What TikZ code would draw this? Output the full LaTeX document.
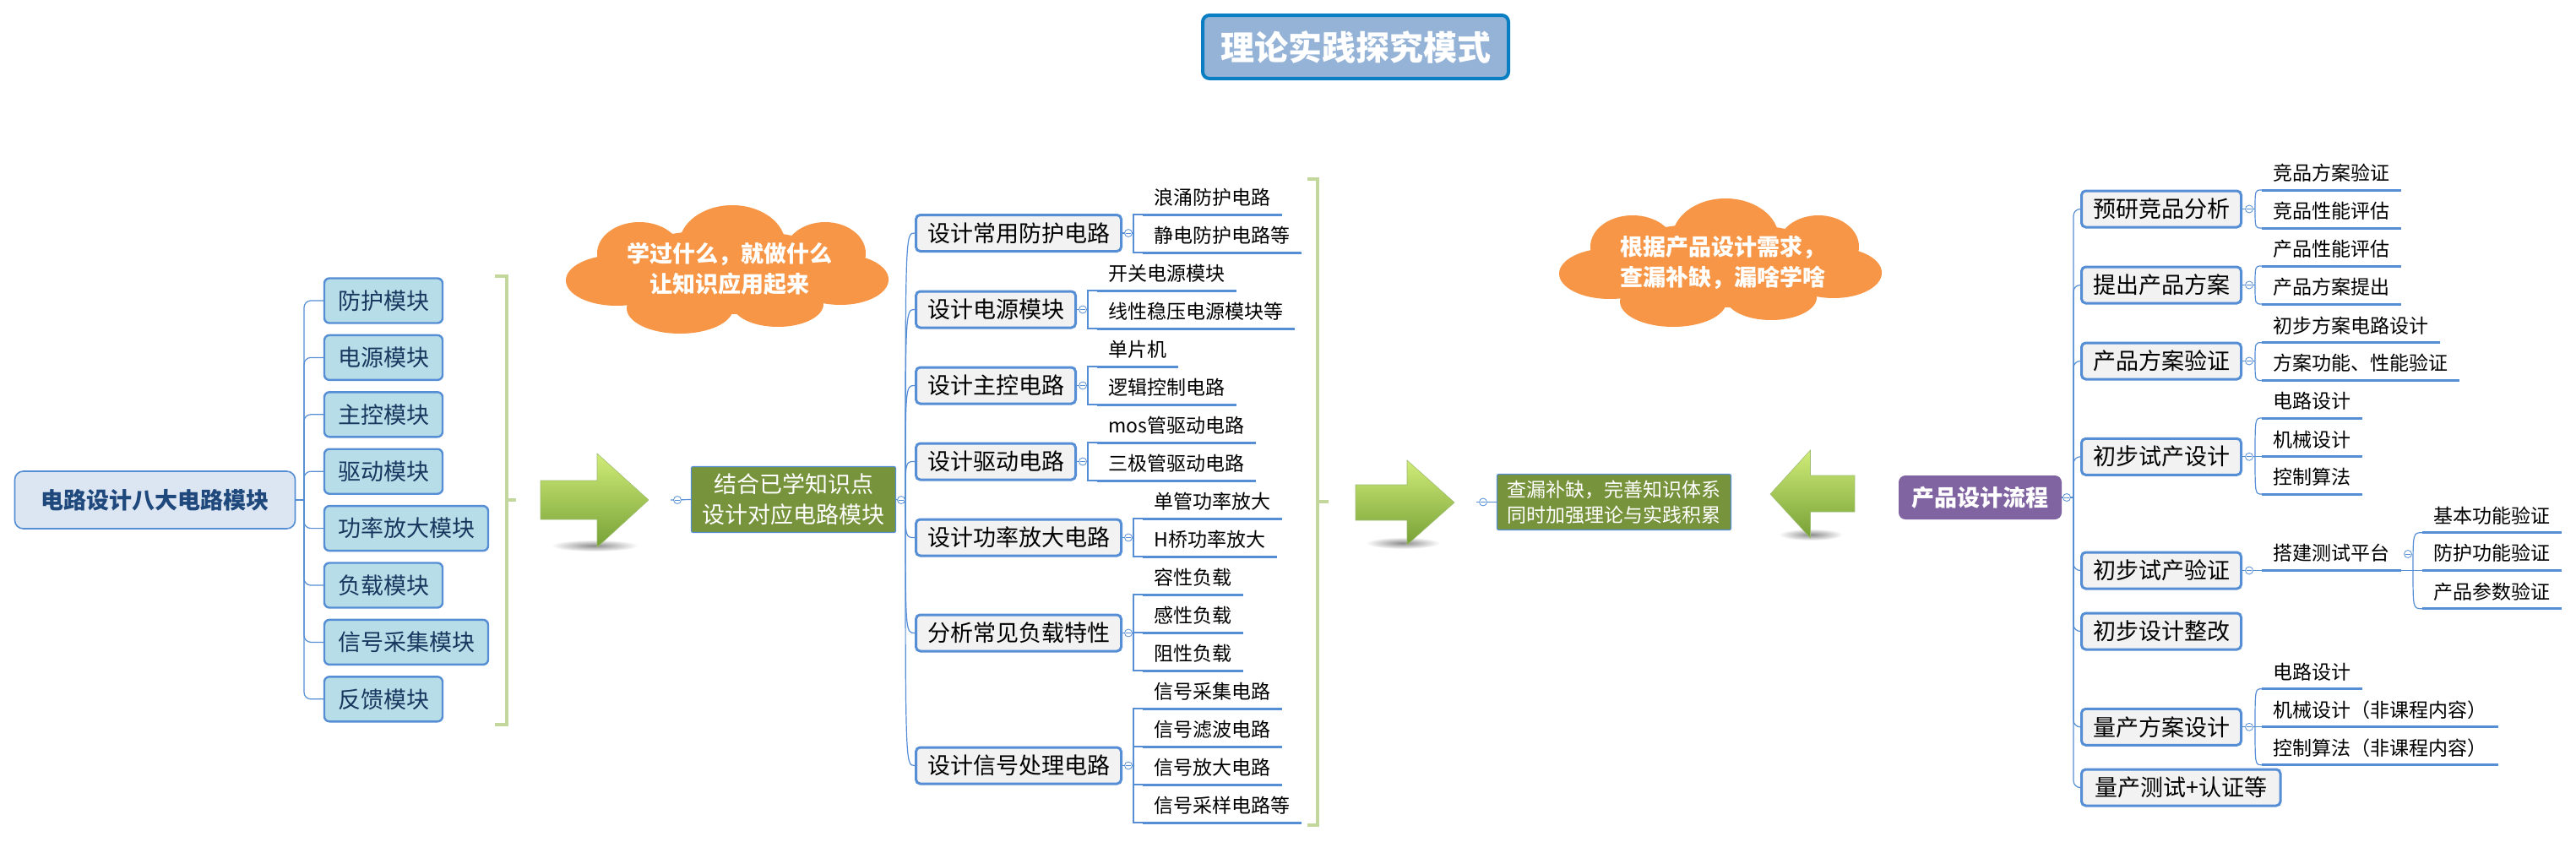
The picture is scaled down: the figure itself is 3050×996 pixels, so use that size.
\documentclass[tikz,border=0pt]{standalone}
\usepackage{fontspec}
\setmainfont{Noto Sans CJK SC}
\usetikzlibrary{calc}
\pgfdeclarelayer{bg}
\pgfsetlayers{bg,main}
\definecolor{linkblue}{HTML}{558ED5}
\definecolor{leftfill}{HTML}{B7DEE8}
\definecolor{mainfill}{HTML}{DCE6F2}
\definecolor{maintext}{HTML}{1F497D}
\definecolor{childtext}{HTML}{17375E}
\definecolor{boxfill}{HTML}{F2F2F2}
\definecolor{olivefill}{HTML}{77933C}
\definecolor{purplefill}{HTML}{8064A2}
\definecolor{cloudfill}{HTML}{F79646}
\definecolor{titlefill}{HTML}{95B3D7}
\definecolor{titleborder}{HTML}{0A7EC2}
\definecolor{brgreen}{HTML}{C3D69B}
\definecolor{arrtop}{HTML}{D0EC78}
\definecolor{arrbot}{HTML}{76A036}
\newcommand\fsBox{\fontsize{13.5}{18}\selectfont}
\newcommand\fsLeaf{\fontsize{11.5}{15}\selectfont}
\newcommand\fsTitle{\fontsize{20}{24}\selectfont}
\newcommand\lf[4]{\node[leafnode] (#1) at (#2,#3) {#4};\draw[uline] (#1.south west) -- (#1.south east);}
\newcommand\cloudshape{%
  \fill[cloudfill] (861,322) ellipse [x radius=75pt, y radius=25pt];
  \fill[cloudfill] (867,290) ellipse [x radius=31.5pt, y radius=23.5pt];
  \fill[cloudfill] (757,300) ellipse [x radius=25pt, y radius=18.5pt];
  \fill[cloudfill] (977,300) ellipse [x radius=24pt, y radius=18.5pt];
  \fill[cloudfill] (730,332) ellipse [x radius=30pt, y radius=15pt];
  \fill[cloudfill] (995,331) ellipse [x radius=28.5pt, y radius=15pt];
  \fill[cloudfill] (805,365) ellipse [x radius=31.5pt, y radius=15pt];
  \fill[cloudfill] (921,360) ellipse [x radius=27pt, y radius=13.5pt];
}
\begin{document}
\begin{tikzpicture}[x=0.5pt,y=-0.5pt,
  conn/.style={draw=linkblue, line width=0.6pt},
  titlebox/.style={fill=titlefill, draw=titleborder, line width=2pt, rounded corners=4pt, minimum width=181pt, minimum height=37.5pt, inner sep=0pt, text=white, font=\fsTitle\bfseries},
  mainbox/.style={fill=mainfill, draw=linkblue, line width=0.8pt, rounded corners=5pt, minimum width=166pt, minimum height=34pt, inner sep=0pt, text=maintext, font=\fsBox\bfseries},
  lbox/.style={fill=leftfill, draw=linkblue, line width=1.2pt, rounded corners=3pt, minimum height=26.5pt, inner sep=0pt, text=childtext, font=\fsBox},
  bbox/.style={fill=boxfill, draw=linkblue, line width=1.5pt, rounded corners=2.5pt, minimum height=21.5pt, inner sep=0pt, font=\fsBox},
  gbox/.style={fill=olivefill, draw=linkblue, line width=0.6pt, rounded corners=1pt, inner sep=0pt, text=white, align=center},
  pbox/.style={fill=purplefill, rounded corners=4pt, minimum width=96.5pt, minimum height=26pt, inner sep=0pt, text=white, font=\fsBox\bfseries},
  leafnode/.style={anchor=south west, inner xsep=6.5pt, inner ysep=0pt, minimum height=20pt, font=\fsLeaf},
  uline/.style={draw=linkblue, line width=1.5pt},
  tog/.style={circle, draw=linkblue, fill=white, line width=0.4pt, minimum size=4.5pt, inner sep=0pt,
    path picture={\draw[linkblue, line width=0.35pt] ([xshift=-1.3pt]path picture bounding box.center) -- ([xshift=1.3pt]path picture bounding box.center);}},
  brk/.style={draw=brgreen, line width=2pt},
  bigarrow/.style={top color=arrtop, bottom color=arrbot, draw=arrbot!70!white, line width=0.3pt},
  shadowell/.style={inner color=black!45, outer color=white},
  cloudtext/.style={text=white, font=\fsBox\bfseries, align=center, inner sep=0pt}
]
\useasboundingbox (0,0) rectangle (3050,996);
\begin{pgfonlayer}{bg}
\fill[white] (0,0) rectangle (3050,996);
\end{pgfonlayer}

% title
\node[titlebox] (title) at (1605,55.5) {理论实践探究模式};

% left part
\node[mainbox] (main) at (183.5,592) {电路设计八大电路模块};
\node[lbox, minimum width=70pt] (k1) at (454,356) {防护模块};
\node[lbox, minimum width=70pt] (k2) at (454,423.4) {电源模块};
\node[lbox, minimum width=70pt] (k3) at (454,490.8) {主控模块};
\node[lbox, minimum width=70pt] (k4) at (454,558.2) {驱动模块};
\node[lbox, minimum width=97pt] (k5) at (481,625.6) {功率放大模块};
\node[lbox, minimum width=70pt] (k6) at (454,693) {负载模块};
\node[lbox, minimum width=97pt] (k7) at (481,760.4) {信号采集模块};
\node[lbox, minimum width=70pt] (k8) at (454,827.8) {反馈模块};
\coordinate (jL) at (360,592);

% bracket 1
\draw[brk] (586,327) -- (600,327) -- (600,858) -- (586,858);
\draw[brk] (600,592) -- (611,592);

% arrow 1
\shade[shadowell] (704,646) ellipse [x radius=26pt, y radius=3.5pt];
\path[bigarrow] (640,569) -- (707,569) -- (707,537) -- (768,592) -- (707,648) -- (707,615) -- (640,615) -- cycle;

% cloud 1
\cloudshape
\node[cloudtext] (cloudA) at (863.5,318.5) {学过什么，就做什么\\让知识应用起来};

% middle node
\node[gbox, minimum width=121pt, minimum height=39pt, font=\fsBox] (mid) at (939.5,591.5) {结合已学知识点\\设计对应电路模块};
\node[tog] (midL) at (802,592) {};
\node[tog] (midR) at (1067,592) {};
\coordinate (jB) at (1072,592);

% B boxes
\node[bbox, minimum width=121.5pt] (B1) at (1206,276) {设计常用防护电路};
\node[bbox, minimum width=94.5pt] (B2) at (1179,366.5) {设计电源模块};
\node[bbox, minimum width=94.5pt] (B3) at (1179,456.5) {设计主控电路};
\node[bbox, minimum width=94.5pt] (B4) at (1179,546.5) {设计驱动电路};
\node[bbox, minimum width=121.5pt] (B5) at (1206,636.5) {设计功率放大电路};
\node[bbox, minimum width=121.5pt] (B6) at (1206,749.5) {分析常见负载特性};
\node[bbox, minimum width=121.5pt] (B7) at (1206,906.5) {设计信号处理电路};

\node[tog] (cB1) at (1336,276) {};   \coordinate (kB1) at (1342,276);
\node[tog] (cB2) at (1282,366.5) {}; \coordinate (kB2) at (1288,366.5);
\node[tog] (cB3) at (1282,456.5) {}; \coordinate (kB3) at (1288,456.5);
\node[tog] (cB4) at (1282,546.5) {}; \coordinate (kB4) at (1288,546.5);
\node[tog] (cB5) at (1336,636.5) {}; \coordinate (kB5) at (1342,636.5);
\node[tog] (cB6) at (1336,749.5) {}; \coordinate (kB6) at (1342,749.5);
\node[tog] (cB7) at (1336,906.5) {}; \coordinate (kB7) at (1342,906.5);

\lf{b1a}{1353}{254}{浪涌防护电路}
\lf{b1b}{1353}{299}{静电防护电路等}
\lf{b2a}{1299}{344}{开关电源模块}
\lf{b2b}{1299}{389}{线性稳压电源模块等}
\lf{b3a}{1299}{434}{单片机}
\lf{b3b}{1299}{479}{逻辑控制电路}
\lf{b4a}{1299}{524}{mos管驱动电路}
\lf{b4b}{1299}{569}{三极管驱动电路}
\lf{b5a}{1353}{614}{单管功率放大}
\lf{b5b}{1353}{659}{H桥功率放大}
\lf{b6a}{1353}{704}{容性负载}
\lf{b6b}{1353}{749}{感性负载}
\lf{b6c}{1353}{794}{阻性负载}
\lf{b7a}{1353}{839}{信号采集电路}
\lf{b7b}{1353}{884}{信号滤波电路}
\lf{b7c}{1353}{929}{信号放大电路}
\lf{b7d}{1353}{974}{信号采样电路等}

% bracket 2
\draw[brk] (1548,212) -- (1560,212) -- (1560,977) -- (1548,977);
\draw[brk] (1560,594) -- (1573,594);

% arrow 2
\shade[shadowell] (1661,643) ellipse [x radius=22pt, y radius=3.5pt];
\path[bigarrow] (1605,574) -- (1666,574) -- (1666,545) -- (1722,595) -- (1666,645) -- (1666,616) -- (1605,616) -- cycle;

% middle-right node
\node[gbox, minimum width=138.5pt, minimum height=33pt, font=\fsLeaf] (mr) at (1911,594.5) {查漏补缺，完善知识体系\\同时加强理论与实践积累};
\node[tog] (mrL) at (1756,594.5) {};

% arrow 3
\shade[shadowell] (2144,633) ellipse [x radius=19pt, y radius=3.5pt];
\path[bigarrow] (2196,563) -- (2143.5,563) -- (2143.5,533) -- (2096,585) -- (2143.5,637) -- (2143.5,606) -- (2196,606) -- cycle;

% cloud 2
\begin{scope}[shift={(1176,-8)}]
\cloudshape
\end{scope}
\node[cloudtext] (cloudB) at (2039.5,310.5) {根据产品设计需求，\\查漏补缺，漏啥学啥};

% right part
\node[pbox] (flow) at (2344.5,589) {产品设计流程};
\node[tog] (flowR) at (2447,589) {};
\coordinate (jC) at (2455,589);

\node[bbox, minimum width=94.5pt] (C1) at (2559,247.5) {预研竞品分析};
\node[bbox, minimum width=94.5pt] (C2) at (2559,337.5) {提出产品方案};
\node[bbox, minimum width=94.5pt] (C3) at (2559,427.5) {产品方案验证};
\node[bbox, minimum width=94.5pt] (C4) at (2559,540.8) {初步试产设计};
\node[bbox, minimum width=94.5pt] (C5) at (2559,675.5) {初步试产验证};
\node[bbox, minimum width=94.5pt] (C6) at (2559,747.5) {初步设计整改};
\node[bbox, minimum width=94.5pt] (C7) at (2559,860.8) {量产方案设计};
\node[bbox, minimum width=117.75pt] (C8) at (2582.25,932.5) {量产测试+认证等};

\node[tog] (cC1) at (2663,247.5) {}; \coordinate (kC1) at (2670,247.5);
\node[tog] (cC2) at (2663,337.5) {}; \coordinate (kC2) at (2670,337.5);
\node[tog] (cC3) at (2663,427.5) {}; \coordinate (kC3) at (2670,427.5);
\node[tog] (cC4) at (2663,540.8) {}; \coordinate (kC4) at (2670,540.8);
\node[tog] (cC5) at (2663,675.5) {}; \coordinate (kC5) at (2670,675.5);
\node[tog] (cC7) at (2663,860.8) {}; \coordinate (kC7) at (2670,860.8);

\lf{c1a}{2678}{225}{竞品方案验证}
\lf{c1b}{2678}{270}{竞品性能评估}
\lf{c2a}{2678}{315}{产品性能评估}
\lf{c2b}{2678}{360}{产品方案提出}
\lf{c3a}{2678}{405.7}{初步方案电路设计}
\lf{c3b}{2678}{450.5}{方案功能、性能验证}
\lf{c4a}{2678}{495}{电路设计}
\lf{c4b}{2678}{540.8}{机械设计}
\lf{c4c}{2678}{585}{控制算法}
\lf{c5a}{2678}{675.5}{搭建测试平台}
\node[tog] (cPS) at (2851,656) {}; \coordinate (kP) at (2857,675.5);
\lf{s1}{2868}{630.7}{基本功能验证}
\lf{s2}{2868}{675.5}{防护功能验证}
\lf{s3}{2868}{720.7}{产品参数验证}
\lf{c7a}{2678}{815.7}{电路设计}
\lf{c7b}{2678}{860.8}{机械设计（非课程内容）}
\lf{c7c}{2678}{905.7}{控制算法（非课程内容）}

% connectors
\begin{pgfonlayer}{bg}
\draw[conn] (main.east) -- (jL);
\foreach \n in {k1,k2,k3,k4,k5,k6,k7,k8} \draw[conn, rounded corners=4pt] (jL) |- (\n.west);
\draw[conn] ([xshift=-4pt]midL.center) -- (mid.west);
\draw[conn] (mid.east) -- (jB);
\foreach \n in {B1,B2,B3,B4,B5,B6,B7} \draw[conn] (jB) .. controls (jB |- \n.west) .. (\n.west);
\draw[conn] (B1.east) -- (kB1); \draw[conn] (B2.east) -- (kB2); \draw[conn] (B3.east) -- (kB3);
\draw[conn] (B4.east) -- (kB4); \draw[conn] (B5.east) -- (kB5); \draw[conn] (B6.east) -- (kB6);
\draw[conn] (B7.east) -- (kB7);
\foreach \n in {b1a,b1b} \draw[conn] (kB1) |- (\n.south west);
\foreach \n in {b2a,b2b} \draw[conn] (kB2) |- (\n.south west);
\foreach \n in {b3a,b3b} \draw[conn] (kB3) |- (\n.south west);
\foreach \n in {b4a,b4b} \draw[conn] (kB4) |- (\n.south west);
\foreach \n in {b5a,b5b} \draw[conn] (kB5) |- (\n.south west);
\foreach \n in {b6a,b6b,b6c} \draw[conn] (kB6) |- (\n.south west);
\foreach \n in {b7a,b7b,b7c,b7d} \draw[conn] (kB7) |- (\n.south west);
\draw[conn] ([xshift=-4pt]mrL.center) -- (mr.west);
\draw[conn] (flow.east) -- (jC);
\foreach \n in {C1,C2,C3,C4,C5,C6,C7,C8} \draw[conn, rounded corners=4pt] (jC) |- (\n.west);
\draw[conn] (C1.east) -- (kC1); \draw[conn] (C2.east) -- (kC2); \draw[conn] (C3.east) -- (kC3);
\draw[conn] (C4.east) -- (kC4); \draw[conn] (C5.east) -- (kC5); \draw[conn] (C7.east) -- (kC7);
\foreach \n in {c1a,c1b} \draw[conn] (kC1) .. controls (kC1 |- \n.south west) .. (\n.south west);
\foreach \n in {c2a,c2b} \draw[conn] (kC2) .. controls (kC2 |- \n.south west) .. (\n.south west);
\foreach \n in {c3a,c3b} \draw[conn] (kC3) .. controls (kC3 |- \n.south west) .. (\n.south west);
\foreach \n in {c4a,c4b,c4c} \draw[conn] (kC4) .. controls (kC4 |- \n.south west) .. (\n.south west);
\draw[conn] (kC5) -- (c5a.south west);
\draw[conn] (c5a.south east) -- (kP);
\foreach \n in {s1,s2,s3} \draw[conn] (kP) .. controls (kP |- \n.south west) .. (\n.south west);
\foreach \n in {c7a,c7b,c7c} \draw[conn] (kC7) .. controls (kC7 |- \n.south west) .. (\n.south west);
\end{pgfonlayer}
\end{tikzpicture}
\end{document}
